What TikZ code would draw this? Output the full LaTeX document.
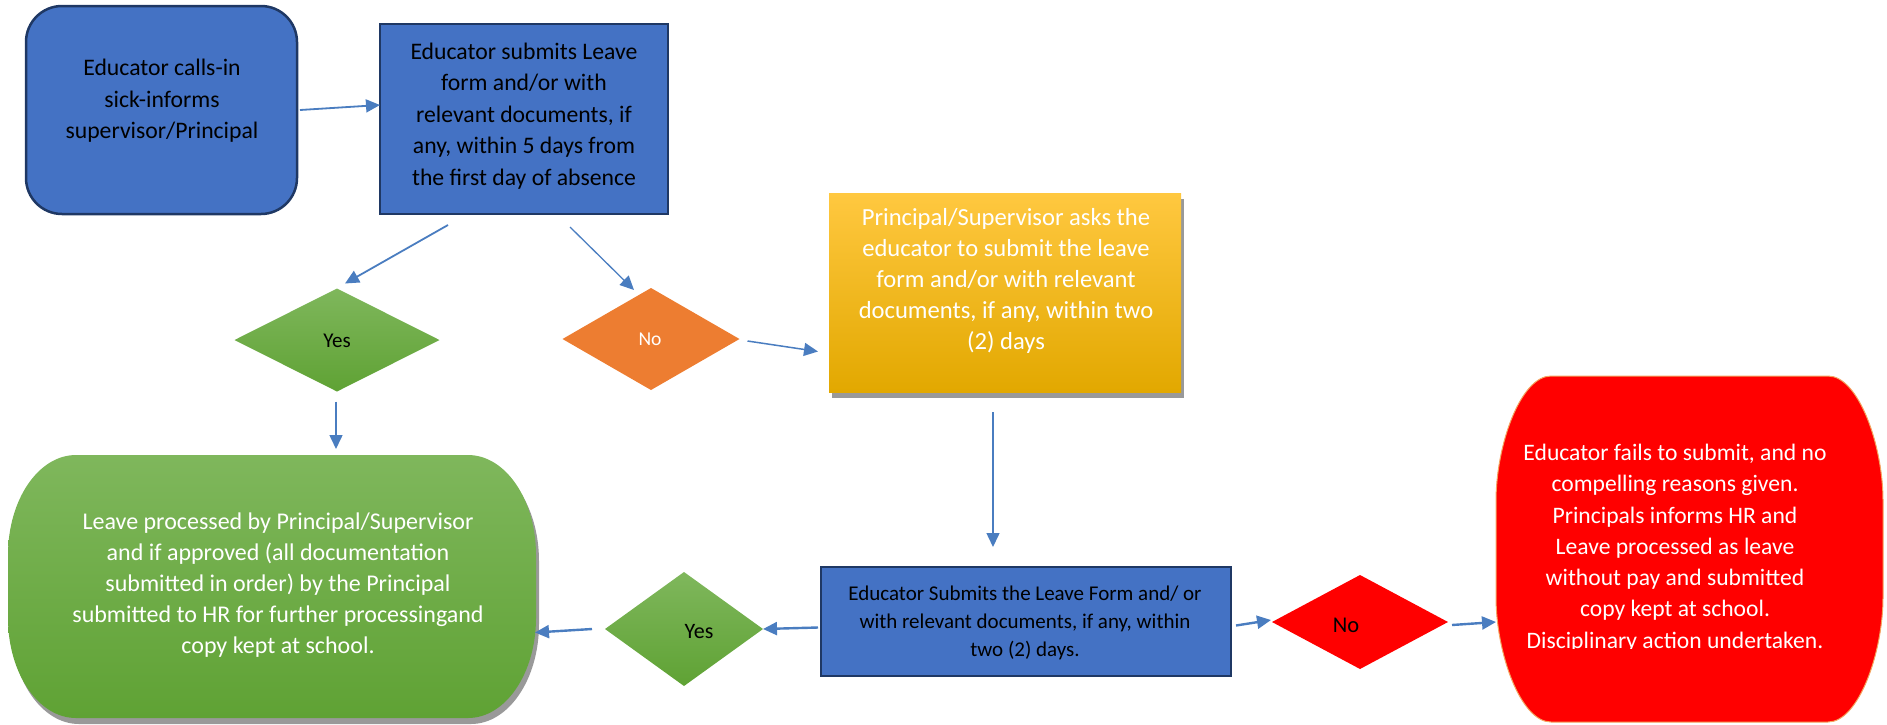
\documentclass[tikz,border=0pt]{standalone}
\usepackage{fontspec}
\setmainfont{Carlito}
\usetikzlibrary{shapes.geometric,arrows.meta,calc}
\definecolor{bluefill}{HTML}{4472C4}
\definecolor{bluedraw}{HTML}{1F3864}
\definecolor{arrowc}{HTML}{4A7DC0}
\definecolor{orangef}{HTML}{ED7D31}
\definecolor{redf}{HTML}{FF0000}
\definecolor{redline}{HTML}{F4A460}
\definecolor{yeltop}{HTML}{FFC840}
\definecolor{yelmid}{HTML}{FFC000}
\definecolor{yelbot}{HTML}{E2A800}
\definecolor{grtop}{HTML}{7FB75C}
\definecolor{grbot}{HTML}{5FA234}
\definecolor{shadowc}{HTML}{7F7F7F}
\newcommand\fsz[2]{\fontsize{#1}{#2}\selectfont}
\begin{document}
\begin{tikzpicture}[x=1pt,y=-1pt,
  shapebox/.style={rectangle, inner sep=0pt, outer sep=0pt},
  bluebox/.style={shapebox, fill=bluefill, draw=bluedraw, line width=2.5pt},
  decision/.style={diamond, inner sep=0pt, outer sep=0pt},
  txt/.style={align=center, inner sep=0pt},
  arr/.style={draw=arrowc, line width=1.8pt, -{Triangle[length=14pt,width=13pt]}},
  thickarr/.style={arr, line width=2.4pt},
  shadowed/.style={preaction={fill=shadowc, opacity=0.8, transform canvas={xshift=3pt,yshift=-6pt}}}
]
\path[use as bounding box] (0,0) rectangle (1887,724);

% ---- shapes ----
\node[bluebox, rounded corners=36pt, minimum width=271pt, minimum height=208pt] (n1) at (161.5,110) {};
\node[bluebox, minimum width=288pt, minimum height=190pt] (n2) at (524,119) {};
\node[decision, minimum width=205pt, minimum height=103pt, top color=grtop, bottom color=grbot] (yes1) at (337,340) {};
\node[decision, minimum width=177pt, minimum height=102pt, fill=orangef] (no1) at (651,339) {};
\node[shapebox, minimum width=352pt, minimum height=199pt, shadowed, top color=yeltop, middle color=yelmid, bottom color=yelbot] (ask) at (1005,292.5) {};
\node[bluebox, minimum width=410pt, minimum height=109pt] (sub) at (1026,621.5) {};
\node[decision, minimum width=158pt, minimum height=114pt, top color=grtop, bottom color=grbot] (yes2) at (684,629) {};
\node[decision, minimum width=176pt, minimum height=94pt, fill=redf] (no2) at (1360,622) {};

% green terminator
\node[shapebox, minimum width=528pt, minimum height=263pt] (proc) at (272,586.5) {};
\path[shadowed, top color=grtop, bottom color=grbot]
  ($(proc.north west)+(68,0)$) -- ($(proc.north east)+(-68,0)$)
  .. controls ($(proc.north east)+(-30.4,0)$) and ($(proc.north east)+(0,44.8)$) .. ($(proc.north east)+(0,100)$)
  -- ($(proc.south east)+(0,-100)$)
  .. controls ($(proc.south east)+(0,-44.8)$) and ($(proc.south east)+(-30.4,0)$) .. ($(proc.south east)+(-68,0)$)
  -- ($(proc.south west)+(68,0)$)
  .. controls ($(proc.south west)+(30.4,0)$) and ($(proc.south west)+(0,-44.8)$) .. ($(proc.south west)+(0,-100)$)
  -- ($(proc.north west)+(0,100)$)
  .. controls ($(proc.north west)+(0,44.8)$) and ($(proc.north west)+(30.4,0)$) .. cycle;

% red terminator
\node[shapebox, minimum width=387pt, minimum height=346pt] (fail) at (1689.5,549) {};
\path[fill=redf, draw=redline, line width=1pt]
  ($(fail.north west)+(55,0)$) -- ($(fail.north east)+(-55,0)$)
  .. controls ($(fail.north east)+(-24.6,0)$) and ($(fail.north east)+(0,69)$) .. ($(fail.north east)+(0,125)$)
  -- ($(fail.south east)+(0,-125)$)
  .. controls ($(fail.south east)+(0,-69)$) and ($(fail.south east)+(-24.6,0)$) .. ($(fail.south east)+(-55,0)$)
  -- ($(fail.south west)+(55,0)$)
  .. controls ($(fail.south west)+(24.6,0)$) and ($(fail.south west)+(0,-69)$) .. ($(fail.south west)+(0,-125)$)
  -- ($(fail.north west)+(0,125)$)
  .. controls ($(fail.north west)+(0,69)$) and ($(fail.north west)+(24.6,0)$) .. cycle;

% ---- connectors ----
\draw[arr] ($(n1.east)+(3,0)$) -- ($(n2.west)+(0,-14)$);
\draw[arr] ($(n2.south)+(-76,11)$) -- ($(yes1.north)+(8,-5)$);
\draw[arr, line width=1.3pt] ($(n2.south)+(46,13)$) -- ($(no1.north)+(-17,2)$);
\draw[arr, line width=1.5pt] ($(no1.east)+(8,2)$) -- ($(ask.west)+(-11,59)$);
\draw[arr, line width=1.5pt] ($(yes1.south)+(-1,10)$) -- ($(proc.north)+(64,-6)$);
\draw[arr, line width=1.5pt] ($(ask.south)+(-12,20)$) -- ($(sub.north)+(-33,-20)$);
\draw[thickarr] ($(sub.west)+(-3,6)$) -- (yes2.east);
\draw[thickarr] ($(yes2.west)+(-13,0)$) -- ($(proc.east)+(-1,46)$);
\draw[thickarr] ($(sub.east)+(5,4)$) -- ($(no2.west)+(-1,-2)$);
\draw[thickarr] ($(no2.east)+(4,3)$) -- ($(fail.west)+(0,73)$);

% ---- texts ----
\node[txt, font=\fsz{23.7}{31.5}] (t1) at (162,101) {Educator calls-in\\sick-informs\\supervisor/Principal};
\node[txt, font=\fsz{23.7}{31.5}] (t2) at (524,116) {Educator submits Leave\\form and/or with\\relevant documents, if\\any, within 5 days from\\the first day of absence};
\node[txt, font=\fsz{21}{25}] (tyes1) at (337,341) {Yes};
\node[txt, font=\fsz{19.6}{24}, text=white] (tno1) at (650,339) {No};
\node[txt, font=\fsz{24.6}{31}, text=white] (task) at (1006,281) {Principal/Supervisor asks the\\educator to submit the leave\\form and/or with relevant\\documents, if any, within two\\(2) days};
\node[txt, font=\fsz{24}{31}, text=white] (tproc) at (278,585) {Leave processed by Principal/Supervisor\\and if approved (all documentation\\submitted in order) by the Principal\\submitted to HR for further processingand\\copy kept at school.};
\node[txt, font=\fsz{21}{28}] (tsub) at (1025,623) {Educator Submits the Leave Form and/ or\\with relevant documents, if any, within\\two (2) days.};
\node[txt, font=\fsz{22}{26}] (tyes2) at (699,632) {Yes};
\node[txt, font=\fsz{22.5}{26}] (tno2) at (1346,625) {No};
\begin{scope}
\clip ($(fail.north west)+(-5,0)$) rectangle ($(fail.east)+(5,99)$);
\node[txt, font=\fsz{23.6}{31.3}, text=white] (tfail) at (1675,548) {Educator fails to submit, and no\\compelling reasons given.\\Principals informs HR and\\Leave processed as leave\\without pay and submitted\\copy kept at school.\\Disciplinary action undertaken.};
\end{scope}
\end{tikzpicture}
\end{document}
